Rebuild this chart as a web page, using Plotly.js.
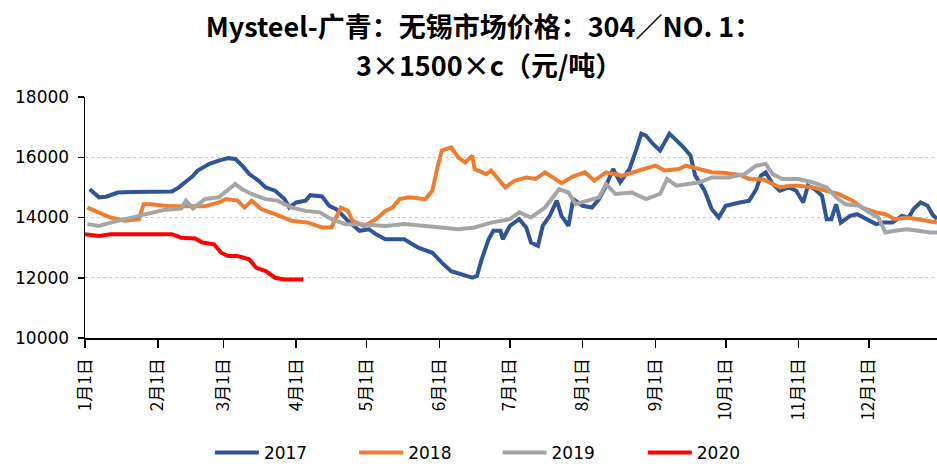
<!DOCTYPE html>
<html>
<head>
<meta charset="utf-8">
<script src="https://cdn.plot.ly/plotly-3.0.1.min.js"></script>
<style>html,body{margin:0;padding:0;background:#fff;}#chart{width:937px;height:467px;}</style>
</head>
<body>
<div id="chart"></div>
<script>
// x = day of year (0 = 1月1日)
const monthStartDays = [0,31,59,90,120,151,181,212,243,273,304,334];
const monthLabels = ["1月1日","2月1日","3月1日","4月1日","5月1日","6月1日","7月1日","8月1日","9月1日","10月1日","11月1日","12月1日"];
const seriesNames = ["2017","2018","2019","2020"];

const days2017 = [2,6,9,14,20,26,32,37,40,43,46,48,51,53,57,61,64,67,70,74,77,81,85,87,90,94,96,101,104,107,110,112,117,121,124,128,136,142,148,152,156,161,165,167,169,172,174,177,178,181,185,188,190,193,195,198,201,203,206,208,212,216,219,222,225,228,232,235,237,239,242,245,249,252,255,258,260,264,267,270,273,279,283,286,288,290,293,296,300,303,306,308,311,314,316,318,320,322,326,329,333,337,340,344,348,351,353,356,359,361,363];
const price2017 = [14940,14670,14690,14830,14850,14850,14850,14860,15000,15170,15380,15560,15700,15780,15890,15970,15945,15720,15440,15220,15000,14890,14610,14330,14500,14560,14740,14700,14390,14280,14055,13890,13560,13610,13440,13280,13280,13000,12830,12500,12220,12110,12000,12060,12610,13280,13560,13560,13280,13720,13945,13670,13170,13060,13720,14055,14560,14055,13720,14610,14390,14330,14610,15055,15610,15170,15610,16280,16780,16720,16440,16220,16780,16560,16330,16050,15390,14890,14280,14000,14390,14500,14560,14940,15390,15500,15110,14890,15000,14890,14500,15055,14940,14720,13945,13945,14440,13830,14055,14110,13945,13780,13830,13830,14055,14000,14280,14500,14390,14110,13945];

const days2018 = [1,6,11,17,23,25,28,36,43,51,57,60,65,68,71,75,81,88,95,101,105,109,112,114,119,124,128,131,134,138,145,148,150,152,156,159,162,165,166,171,173,176,179,183,188,192,196,203,208,213,217,222,229,236,241,243,247,253,256,262,267,273,279,283,289,293,296,300,304,310,316,321,327,331,337,341,345,350,355,360,363];
const price2018 = [14330,14170,14000,13890,13945,14440,14440,14370,14370,14370,14500,14610,14560,14330,14560,14280,14110,13890,13830,13670,13670,14330,14220,13890,13720,13945,14220,14330,14610,14670,14610,14890,15610,16220,16330,16000,15830,16055,15610,15440,15560,15280,15000,15220,15330,15280,15500,15140,15370,15500,15220,15500,15390,15560,15670,15720,15560,15610,15720,15610,15500,15480,15410,15280,15260,15110,15000,15055,15055,15000,14890,14780,14560,14330,14170,14110,13945,14000,13945,13890,13830];

const days2019 = [1,6,11,17,23,28,34,41,43,46,51,57,61,64,67,71,77,82,88,94,100,105,111,117,128,136,145,152,159,166,173,181,185,190,196,202,206,209,215,219,222,226,233,239,245,248,252,257,262,267,274,281,286,290,293,297,304,310,316,320,324,330,334,338,341,345,350,355,360,363];
const price2019 = [13780,13720,13830,13945,14055,14170,14260,14300,14560,14300,14610,14670,14940,15110,14940,14780,14610,14560,14330,14220,14170,13945,13780,13780,13720,13780,13720,13670,13610,13670,13830,13945,14170,14000,14330,14940,14830,14440,14560,14670,15110,14780,14830,14610,14780,15280,15055,15110,15170,15330,15330,15440,15720,15780,15440,15280,15280,15170,15000,14670,14440,14390,14170,14000,13500,13560,13610,13560,13500,13500];

const days2020 = [0,6,11,21,37,41,47,50,55,58,61,65,70,73,77,81,85,93];
const price2020 = [13445,13390,13445,13445,13445,13330,13300,13170,13110,12830,12720,12720,12610,12330,12220,12000,11940,11940];

const colors = ["#2F5597","#ED7D31","#A5A5A5","#FF0000"];
const xs = [days2017, days2018, days2019, days2020];
const ys = [price2017, price2018, price2019, price2020];
const legendIds = ['legend','legend2','legend3','legend4'];
const legendX = [0.224, 0.378, 0.531, 0.686];

const traces = seriesNames.map((n, i) => ({
  x: xs[i], y: ys[i], name: n, type: 'scatter', mode: 'lines',
  line: {color: colors[i], width: 4},
  legend: legendIds[i]
}));

const layout = {
  width: 937, height: 467,
  margin: {l: 85, r: 0, t: 97, b: 129},
  paper_bgcolor: '#fff', plot_bgcolor: '#fff',
  title: {
    text: 'Mysteel-广青：无锡市场价格：304／NO. 1：',
    font: {family: 'Noto Sans CJK SC', size: 27, color: '#000', weight: 'bold'},
    x: 0.516, xref: 'container', xanchor: 'center',
    y: 0.942, yref: 'container', yanchor: 'middle'
  },
  annotations: [{
    text: '3×1500×c（元/吨）', showarrow: false,
    xref: 'paper', yref: 'paper', x: 0.474, y: 1.135,
    xanchor: 'center', yanchor: 'middle',
    font: {family: 'Noto Sans CJK SC', size: 27, color: '#000', weight: 'bold'}
  }],
  xaxis: {
    type: 'linear', range: [0, 363],
    tickmode: 'array', tickvals: monthStartDays, ticktext: monthLabels,
    tickangle: -90, ticks: 'outside', ticklen: 8, tickwidth: 1.5, tickcolor: '#000',
    showline: true, linecolor: '#000', linewidth: 1.5,
    showgrid: false, zeroline: false,
    tickfont: {family: 'Noto Sans CJK SC', size: 17, color: '#000'},
    ticklabelstandoff: 4
  },
  yaxis: {
    range: [10000, 18000], tickvals: [10000,12000,14000,16000,18000], tickformat: 'd',
    ticks: 'outside', ticklen: 6, tickwidth: 1.5, tickcolor: '#000',
    showline: true, linecolor: '#000', linewidth: 1.5,
    showgrid: true, gridcolor: '#C8C8C8', griddash: 'dot', gridwidth: 1,
    zeroline: false,
    tickfont: {family: 'DejaVu Sans', size: 17, color: '#000'},
    ticklabelstandoff: 5
  },
  showlegend: true
};
legendIds.forEach((id, i) => {
  layout[id] = {
    orientation: 'h', xref: 'container', yref: 'container',
    x: legendX[i], xanchor: 'left', y: 0.03, yanchor: 'middle',
    itemwidth: 44,
    font: {family: 'DejaVu Sans', size: 17, color: '#000'},
    bgcolor: 'rgba(0,0,0,0)'
  };
});

Plotly.newPlot('chart', traces, layout, {displayModeBar: false, staticPlot: true});
</script>
</body>
</html>
